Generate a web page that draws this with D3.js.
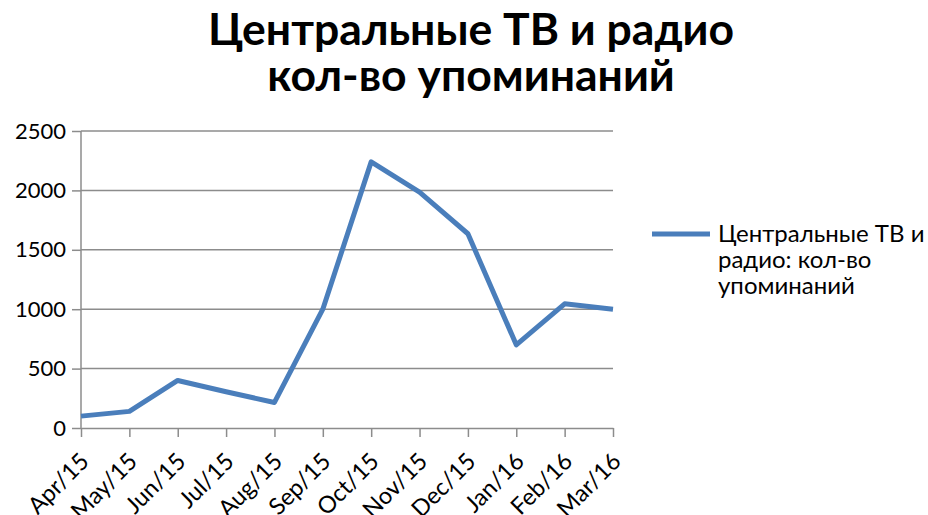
<!DOCTYPE html>
<html>
<head>
<meta charset="utf-8">
<script src="https://cdn.jsdelivr.net/npm/d3@7"></script>
<style>
  body { margin: 0; background: #fff; }
  text { font-family: Lato, "DejaVu Sans", sans-serif; fill: #000; }
</style>
</head>
<body>
<div id="target"></div>
<script>
const months = ["Apr/15", "May/15", "Jun/15", "Jul/15", "Aug/15", "Sep/15",
  "Oct/15", "Nov/15", "Dec/15", "Jan/16", "Feb/16", "Mar/16"];
const mentions = [100, 140, 400, 305, 215, 1000, 2240, 1985, 1635, 700, 1045, 1000];
const yTicks = [0, 500, 1000, 1500, 2000, 2500];
const titleLines = ["Центральные ТВ и радио", "кол-во упоминаний"];
const legendLines = ["Центральные ТВ и", "радио: кол-во", "упоминаний"];

function chart() {
  const width = 928,
    height = 515,
    left = 81, right = 613,
    top = 131, bottom = 428,
    blue = "#4a7ebb",
    grey = "#8c8c8c";

  let svg = d3.select("#target").append("svg")
    .attr("width", width)
    .attr("height", height);

  let x = d3.scalePoint()
    .domain(months)
    .range([left, right]);
  let y = d3.scaleLinear()
    .domain([0, 2500])
    .range([bottom, top]);

  // title
  svg.append("g")
    .selectAll("text")
    .data(titleLines)
    .enter().append("text")
    .attr("text-anchor", "middle")
    .attr("x", 471)
    .attr("y", (d, i) => 45 + i * 46)
    .style("font-size", "44.5px")
    .style("font-weight", "bold")
    .text((d) => d);

  // gridlines
  svg.append("g")
    .selectAll("line")
    .data(yTicks.slice(1))
    .enter().append("line")
    .attr("x1", left)
    .attr("x2", right)
    .attr("y1", (d) => y(d))
    .attr("y2", (d) => y(d))
    .attr("stroke", grey)
    .attr("stroke-width", 1.5);

  let yAxis = d3.axisLeft(y)
    .tickValues(yTicks)
    .tickSize(9)
    .tickPadding(6)
    .tickFormat(d3.format("d"));
  let gy = svg.append("g")
    .attr("transform", `translate(${left},0)`)
    .call(yAxis);
  gy.selectAll("text")
    .style("font-size", "22px");

  let xAxis = d3.axisBottom(x)
    .tickSize(9)
    .tickSizeOuter(0);
  let gx = svg.append("g")
    .attr("transform", `translate(0,${bottom})`)
    .call(xAxis);
  gx.selectAll("text")
    .style("font-size", "23.5px")
    .style("text-anchor", "end")
    .attr("x", 0)
    .attr("y", 0)
    .attr("dy", "0.35em")
    .attr("transform", "translate(3,29) rotate(-45)");

  svg.selectAll(".domain, .tick line")
    .attr("stroke", grey)
    .attr("stroke-width", 1.5);
  gy.select(".domain").remove();
  svg.append("line")
    .attr("x1", left).attr("x2", left)
    .attr("y1", top).attr("y2", bottom)
    .attr("stroke", grey)
    .attr("stroke-width", 1.5);

  // data line
  let line = d3.line()
    .x((d, i) => x(months[i]))
    .y((d) => y(d));
  svg.append("path")
    .datum(mentions)
    .attr("fill", "none")
    .attr("stroke", blue)
    .attr("stroke-width", 5)
    .attr("stroke-linejoin", "round")
    .attr("d", line);

  // legend
  svg.append("line")
    .attr("x1", 652).attr("x2", 710)
    .attr("y1", 234).attr("y2", 234)
    .attr("stroke", blue)
    .attr("stroke-width", 5);
  svg.append("g")
    .selectAll("text")
    .data(legendLines)
    .enter().append("text")
    .attr("x", 718)
    .attr("y", (d, i) => 242 + i * 26)
    .style("font-size", "24px")
    .text((d) => d);
}
chart();
</script>
</body>
</html>
